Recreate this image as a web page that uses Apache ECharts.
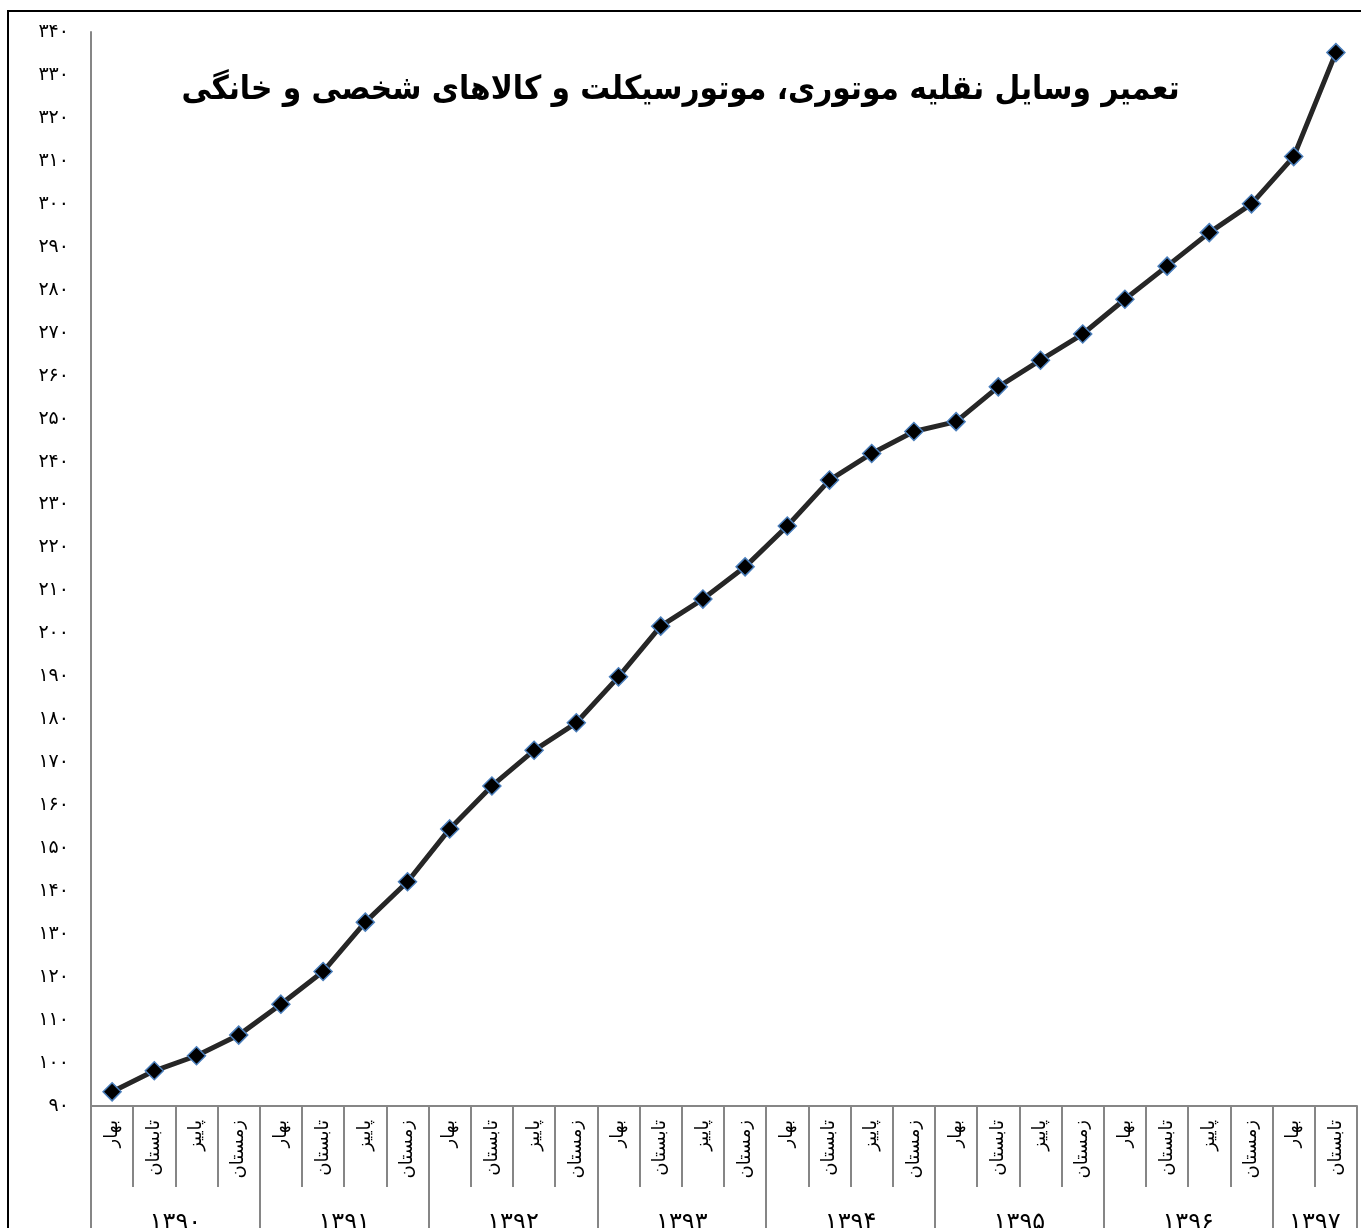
<!DOCTYPE html>
<html>
<head>
<meta charset="utf-8">
<script src="https://cdn.jsdelivr.net/npm/echarts@6/dist/echarts.min.js"></script>
<style>
html,body{margin:0;padding:0;background:#fff;}
#chart{width:1361px;height:1228px;}
</style>
</head>
<body>
<div id="chart"></div>
<script>
const chartTitle = 'تعمیر وسایل نقلیه موتوری، موتورسیکلت و کالاهای شخصی و خانگی';
const years = ['۱۳۹۰','۱۳۹۱','۱۳۹۲','۱۳۹۳','۱۳۹۴','۱۳۹۵','۱۳۹۶','۱۳۹۷'];
const quartersPerYear = [4,4,4,4,4,4,4,2];
const categories = [
  'بهار','تابستان','پاییز','زمستان',
  'بهار','تابستان','پاییز','زمستان',
  'بهار','تابستان','پاییز','زمستان',
  'بهار','تابستان','پاییز','زمستان',
  'بهار','تابستان','پاییز','زمستان',
  'بهار','تابستان','پاییز','زمستان',
  'بهار','تابستان','پاییز','زمستان',
  'بهار','تابستان'
];
const values = [
  93.3, 98.2, 101.7, 106.5,
  113.7, 121.3, 132.8, 142.2,
  154.5, 164.5, 172.8, 179.2,
  189.9, 201.7, 208.0, 215.5,
  225.0, 235.7, 241.9, 247.0,
  249.3, 257.4, 263.6, 269.7,
  277.8, 285.5, 293.3, 300.0,
  311.0, 335.2
];
const yMin = 90, yMax = 340, yStep = 10;

const faDigits = '۰۱۲۳۴۵۶۷۸۹';
function toFa(n){ return String(n).replace(/[0-9]/g, d => faDigits[+d]); }

const yearBounds = [0];
const yearCentres = [];
const yearLabelAt = {};
quartersPerYear.forEach((q, i) => {
  const start = yearBounds[yearBounds.length - 1];
  yearBounds.push(start + q);
  const c = start + q / 2;
  yearCentres.push(c);
  yearLabelAt[c] = years[i];
});

const FONT = '"DejaVu Sans", "Noto Sans", sans-serif';
const TITLE_FONT = '"DejaVu Sans Condensed", "DejaVu Sans", sans-serif';
const GRAY = '#868686';

const chart = echarts.init(document.getElementById('chart'), null, {renderer: 'canvas'});
chart.setOption({
  animation: false,
  backgroundColor: '#fff',
  title: {
    text: chartTitle,
    left: 'center',
    top: 69,
    textStyle: {fontFamily: TITLE_FONT, fontWeight: 'bold', fontSize: 33, color: '#000'}
  },
  graphic: [{
    type: 'rect',
    shape: {x: 8, y: 11, width: 1400, height: 1300},
    style: {fill: 'none', stroke: '#000', lineWidth: 2},
    silent: true, z: -1
  }],
  grid: {left: 91, right: 4, top: 32, bottom: 122, containLabel: false, outerBoundsMode: 'none'},
  xAxis: [{
    type: 'category',
    data: categories,
    boundaryGap: true,
    position: 'bottom',
    axisLine: {show: true, lineStyle: {color: GRAY, width: 2}},
    axisTick: {show: true, interval: 0, length: 81, lineStyle: {color: GRAY, width: 2}},
    axisLabel: {
      interval: 0, rotate: 90, margin: 14,
      fontFamily: FONT, fontSize: 18, color: '#000'
    },
    splitLine: {show: false}
  }, {
    type: 'value',
    min: 0,
    max: categories.length,
    position: 'bottom',
    axisLine: {show: false},
    axisTick: {show: true, customValues: yearBounds, length: 122, lineStyle: {color: GRAY, width: 2}},
    axisLabel: {
      customValues: yearCentres,
      formatter: v => yearLabelAt[v] || '',
      margin: 105,
      fontFamily: FONT, fontSize: 24, color: '#000'
    },
    splitLine: {show: false}
  }],
  yAxis: {
    type: 'value',
    min: yMin, max: yMax, interval: yStep,
    axisLine: {show: true, lineStyle: {color: GRAY, width: 2}},
    axisTick: {show: false},
    splitLine: {show: false},
    axisLabel: {
      formatter: v => toFa(v),
      margin: 22,
      fontFamily: FONT, fontSize: 19, color: '#000'
    }
  },
  series: [{
    type: 'line',
    xAxisIndex: 0,
    data: values,
    symbol: 'diamond',
    symbolSize: 18,
    lineStyle: {color: '#262626', width: 5},
    itemStyle: {color: '#000', borderColor: '#4A7EBB', borderWidth: 1.5},
    z: 3
  }]
});
</script>
</body>
</html>
